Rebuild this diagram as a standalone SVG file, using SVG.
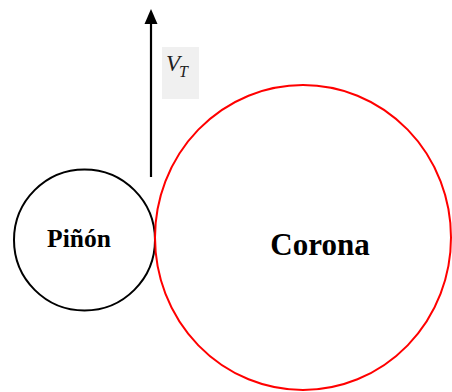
<svg xmlns="http://www.w3.org/2000/svg" width="452" height="392" viewBox="0 0 452 392">
<style>
.lbl{font-family:"Liberation Serif","Times New Roman",serif;font-weight:bold;fill:#000;text-anchor:middle}
.math{font-family:"Liberation Serif","Times New Roman",serif;font-style:italic;fill:#222}
</style>
<rect width="452" height="392" fill="#fff"/>
<g id="connectors">
<line x1="151" y1="177" x2="151" y2="24" stroke="#000" stroke-width="2.2"/>
<path d="M151,9 L157.5,24 L144.5,24 Z" fill="#000"/>
</g>
<g id="vt-label">
<rect x="162" y="47" width="37" height="52" fill="#f0f0f0"/>
<text class="math" x="166" y="71" font-size="23">V<tspan font-size="16" dx="-1" dy="6">T</tspan></text>
</g>
<g id="pinon">
<circle cx="84.5" cy="240" r="70.5" fill="none" stroke="#000" stroke-width="2"/>
<text class="lbl" x="79" y="247" font-size="25.5">Piñón</text>
</g>
<g id="corona">
<ellipse cx="303" cy="237.5" rx="148" ry="152.5" fill="none" stroke="#f00" stroke-width="2"/>
<text class="lbl" x="320" y="255" font-size="31">Corona</text>
</g>
</svg>
